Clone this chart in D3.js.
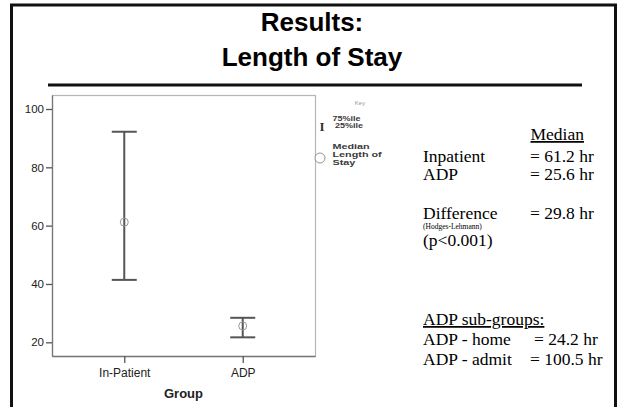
<!DOCTYPE html>
<html>
<head>
<meta charset="utf-8">
<script src="https://cdn.jsdelivr.net/npm/d3@7"></script>
<style>
  body { margin: 0; background: #fff; }
  svg { display: block; }
</style>
</head>
<body>
<svg id="chart" width="620" height="407"></svg>
<script>
// chart values
const groups = ["In-Patient", "ADP"];
const medians = [61.2, 25.6];
const q75 = [92.2, 28.4];
const q25 = [41.4, 21.7];
const yTicks = [20, 40, 60, 80, 100];

// text panel on the right
const titleLines = ["Results:", "Length of Stay"];
const summaryRows = [
  { label: "Inpatient", value: "= 61.2 hr" },
  { label: "ADP", value: "= 25.6 hr" }
];
const subGroupRows = [
  { label: "ADP - home", value: "= 24.2 hr" },
  { label: "ADP - admit", value: "= 100.5 hr" }
];

const svg = d3.select("#chart");
const sans = "'Liberation Sans', Arial, sans-serif";
const serif = "'Liberation Serif', 'Times New Roman', serif";

/*slide frame, open at the bottom*/
svg.append("path")
  .attr("d", "M11.5,407 L11.5,5 L615.5,5 L615.5,407")
  .attr("fill", "none")
  .attr("stroke", "#111")
  .attr("stroke-width", 3);

/*title and rule*/
svg.selectAll("text.title")
  .data(titleLines)
  .enter()
  .append("text")
  .attr("class", "title")
  .attr("x", 312)
  .attr("y", (d, i) => 31 + i * 35)
  .attr("text-anchor", "middle")
  .style("font-family", sans)
  .style("font-weight", "bold")
  .style("font-size", "26px")
  .text(d => d);

svg.append("line")
  .attr("x1", 48).attr("x2", 582)
  .attr("y1", 85).attr("y2", 85)
  .attr("stroke", "#111")
  .attr("stroke-width", 3);

/*plot area*/
const plot = { left: 52, right: 315, top: 95, bottom: 356 };

const x = d3.scalePoint()
  .domain(groups)
  .range([plot.left, plot.right])
  .padding(0.61);

const y = d3.scaleLinear()
  .domain([15.3, 104.8])
  .range([plot.bottom, plot.top]);

svg.append("rect")
  .attr("x", plot.left + 0.5)
  .attr("y", plot.top + 0.5)
  .attr("width", plot.right - plot.left)
  .attr("height", plot.bottom - plot.top)
  .attr("fill", "#fff")
  .attr("stroke", "#b5b5b5")
  .attr("stroke-width", 1.2);

const yAxis = svg.append("g")
  .attr("transform", `translate(${plot.left},0)`)
  .call(d3.axisLeft(y).tickValues(yTicks).tickSize(6).tickPadding(2).tickSizeOuter(0));

const xAxis = svg.append("g")
  .attr("transform", `translate(0,${plot.bottom})`)
  .call(d3.axisBottom(x).tickSize(7).tickPadding(5).tickSizeOuter(0));

[yAxis, xAxis].forEach(ax => {
  ax.select(".domain").attr("stroke", "#777").attr("stroke-width", 1.3);
  ax.selectAll(".tick line").attr("stroke", "#555").attr("stroke-width", 1.3);
  ax.selectAll(".tick text")
    .style("font-family", sans)
    .attr("fill", "#222");
});
yAxis.selectAll(".tick text").style("font-size", "11.5px");
xAxis.selectAll(".tick text").style("font-size", "12px");

svg.append("text")
  .attr("x", (plot.left + plot.right) / 2)
  .attr("y", 398)
  .attr("text-anchor", "middle")
  .style("font-family", sans)
  .style("font-weight", "bold")
  .style("font-size", "13px")
  .attr("fill", "#222")
  .text("Group");

/*interquartile whiskers with caps*/
const capHalf = 12.5;
const bars = svg.append("g")
  .selectAll("g")
  .data(groups)
  .enter()
  .append("g");

bars.append("line")
  .attr("x1", d => x(d)).attr("x2", d => x(d))
  .attr("y1", (d, i) => y(q75[i]))
  .attr("y2", (d, i) => y(q25[i]))
  .attr("stroke", "#555")
  .attr("stroke-width", 2);

bars.append("line")
  .attr("x1", d => x(d) - capHalf).attr("x2", d => x(d) + capHalf)
  .attr("y1", (d, i) => y(q75[i])).attr("y2", (d, i) => y(q75[i]))
  .attr("stroke", "#555")
  .attr("stroke-width", 2);

bars.append("line")
  .attr("x1", d => x(d) - capHalf).attr("x2", d => x(d) + capHalf)
  .attr("y1", (d, i) => y(q25[i])).attr("y2", (d, i) => y(q25[i]))
  .attr("stroke", "#555")
  .attr("stroke-width", 2);

bars.append("circle")
  .attr("cx", d => x(d))
  .attr("cy", (d, i) => y(medians[i]))
  .attr("r", 4)
  .attr("fill", "none")
  .attr("stroke", "#999")
  .attr("stroke-width", 1);

/*key: text in the source image is squashed vertically*/
const key = svg.append("g").style("font-family", sans);
key.append("text")
  .attr("x", 360).attr("y", 105)
  .attr("text-anchor", "middle")
  .style("font-size", "6px")
  .attr("fill", "#999")
  .text("Key");
key.append("text")
  .attr("x", 322).attr("y", 130.5)
  .attr("text-anchor", "middle")
  .style("font-family", serif)
  .style("font-size", "13px")
  .style("font-weight", "bold")
  .attr("fill", "#333")
  .text("I");

const keyLines = [
  { t: "75%ile", x: 332.5, y: 120.5, size: 9, sy: 0.78 },
  { t: "25%ile", x: 335, y: 128.3, size: 9, sy: 0.78 },
  { t: "Median", x: 332.5, y: 149.3, size: 10.8, sy: 0.74 },
  { t: "Length of", x: 332.5, y: 157.1, size: 10.8, sy: 0.74 },
  { t: "Stay", x: 332.5, y: 164.9, size: 10.8, sy: 0.74 }
];
key.selectAll("text.keyline")
  .data(keyLines)
  .enter()
  .append("text")
  .attr("class", "keyline")
  .attr("transform", d => `translate(${d.x},${d.y}) scale(1,${d.sy})`)
  .style("font-size", d => d.size + "px")
  .style("font-weight", "bold")
  .attr("fill", "#3a3a3a")
  .text(d => d.t);

key.append("circle")
  .attr("cx", 320).attr("cy", 158)
  .attr("r", 5)
  .attr("fill", "#fff")
  .attr("stroke", "#888")
  .attr("stroke-width", 0.9);

/*text panel*/
const panel = svg.append("g")
  .style("font-family", serif)
  .style("font-size", "17.5px")
  .attr("fill", "#000");

panel.append("text")
  .attr("x", 530.5).attr("y", 140)
  .style("text-decoration", "underline")
  .text("Median");

summaryRows.forEach((r, i) => {
  panel.append("text").attr("x", 423).attr("y", 161.5 + i * 18.5).text(r.label);
  panel.append("text").attr("x", 530).attr("y", 161.5 + i * 18.5).text(r.value);
});

panel.append("text").attr("x", 423).attr("y", 218.5).text("Difference");
panel.append("text").attr("x", 530).attr("y", 218.5).text("= 29.8 hr");
panel.append("text")
  .attr("x", 423).attr("y", 229)
  .style("font-size", "7.5px")
  .text("(Hodges-Lehmann)");
panel.append("text").attr("x", 423).attr("y", 245.5).text("(p<0.001)");

panel.append("text")
  .attr("x", 423).attr("y", 325)
  .style("text-decoration", "underline")
  .text("ADP sub-groups:");

subGroupRows.forEach((r, i) => {
  panel.append("text").attr("x", 423).attr("y", 345 + i * 20).text(r.label);
  panel.append("text").attr("x", i === 0 ? 534 : 530).attr("y", 345 + i * 20).text(r.value);
});
</script>
</body>
</html>
